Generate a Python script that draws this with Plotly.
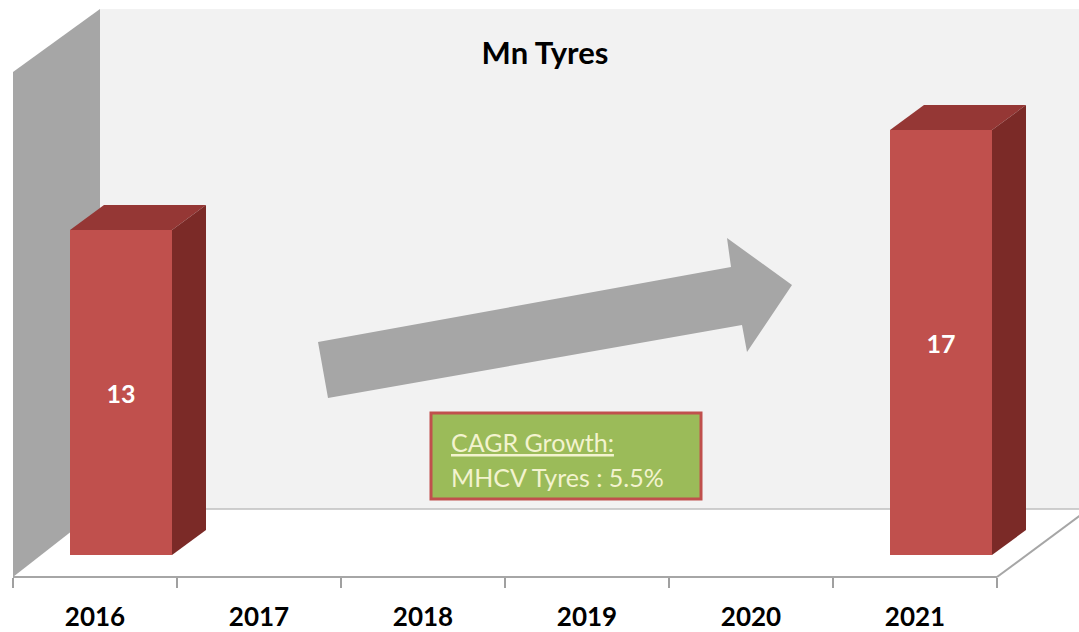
import plotly.graph_objects as go

# ---------------- data ----------------
YEARS = ["2016", "2017", "2018", "2019", "2020", "2021"]
VALUES = [13, None, None, None, None, 17]
TITLE = "Mn Tyres"
BOX_LINE1 = "CAGR Growth:"
BOX_LINE2 = "MHCV Tyres : 5.5%"

# ---------------- layout constants ----------------
W, H = 1079, 632
MB = 55                      # bottom margin (axis / floor front edge at y=577px)
PLOT_H = H - MB
X_RANGE = [-95 / 164, (W - 95) / 164]     # 164 px per category
Y_RANGE = [-22 / 25, 555 / 25]            # 25 px per unit, zero at 555px

BAR_W = 102 / 164
BAR_OFF = -25 / 164
DXB = 34 / 164        # bar depth, category units
DYB = 1.0             # bar depth, value units

FRONT = "#c0504d"
TOP = "#953735"
SIDE = "#7b2a27"
WALL_BACK = "#f2f2f2"
WALL_LEFT = "#a6a6a6"
FONT = "Lato, 'Open Sans', sans-serif"

xpos = list(range(len(YEARS)))


def pp(xp, yp):
    """pixel -> paper coordinates (decoration only)"""
    return xp / W, (PLOT_H - yp) / PLOT_H


def path_px(points):
    pts = [pp(x, y) for x, y in points]
    return "M " + " L ".join(f"{x:.5f},{y:.5f}" for x, y in pts) + " Z"


fig = go.Figure()

# front faces of bars
fig.add_trace(go.Bar(
    x=xpos, y=VALUES, width=BAR_W, offset=BAR_OFF,
    marker=dict(color=FRONT, line=dict(width=0)),
    text=[str(v) if v is not None else "" for v in VALUES],
    textposition="inside", insidetextanchor="middle", textangle=0,
    textfont=dict(family=FONT, size=25, color="white", weight="bold"),
    hoverinfo="skip", showlegend=False,
))

# 3D top and side faces computed from values
for i, v in zip(xpos, VALUES):
    if v is None:
        continue
    x0 = i + BAR_OFF
    x1 = x0 + BAR_W
    fig.add_trace(go.Scatter(
        x=[x0, x0 + DXB, x1 + DXB, x1, x0],
        y=[v, v + DYB, v + DYB, v, v],
        mode="lines", fill="toself", fillcolor=TOP,
        line=dict(width=0, color=TOP), hoverinfo="skip", showlegend=False))
    fig.add_trace(go.Scatter(
        x=[x1, x1 + DXB, x1 + DXB, x1, x1],
        y=[v, v + DYB, DYB, 0, v],
        mode="lines", fill="toself", fillcolor=SIDE,
        line=dict(width=0, color=SIDE), hoverinfo="skip", showlegend=False))

shapes = []
# back wall
shapes.append(dict(type="path", xref="paper", yref="paper", layer="below",
                   path=path_px([(100, 9), (W + 5, 9), (W + 5, 509), (100, 509)]),
                   fillcolor=WALL_BACK, line=dict(width=0)))
# left wall
shapes.append(dict(type="path", xref="paper", yref="paper", layer="below",
                   path=path_px([(13, 72), (100, 9), (100, 509), (13, 577)]),
                   fillcolor=WALL_LEFT, line=dict(width=0)))
# back wall / floor line
x0p, y0p = pp(100, 509)
x1p, _ = pp(W + 5, 509)
shapes.append(dict(type="line", xref="paper", yref="paper", layer="below",
                   x0=x0p, y0=y0p, x1=x1p, y1=y0p,
                   line=dict(color="#bfbfbf", width=1.5)))
# floor front edge + right diagonal
for (a, b) in [((13, 577), (997, 577)), ((997, 577), (W + 3, 514))]:
    xa, ya = pp(*a)
    xb, yb = pp(*b)
    shapes.append(dict(type="line", xref="paper", yref="paper", layer="above",
                       x0=xa, y0=ya, x1=xb, y1=yb,
                       line=dict(color="#a6a6a6", width=2)))
# big gray arrow
shapes.append(dict(type="path", xref="paper", yref="paper", layer="below",
                   path=path_px([(318, 342), (731, 267), (727, 238), (792, 285),
                                 (747, 352), (742, 325), (328, 398)]),
                   fillcolor="#a6a6a6", line=dict(width=0)))
# CAGR box
shapes.append(dict(type="path", xref="paper", yref="paper", layer="above",
                   path=path_px([(431, 413), (701, 413), (701, 499), (431, 499)]),
                   fillcolor="#9bbb59", line=dict(color="#c0504d", width=3)))

annotations = []
bx, by1 = pp(449, 442)
_, by2 = pp(449, 477)
annotations.append(dict(x=bx, y=by1, xref="paper", yref="paper", xanchor="left",
                        yanchor="middle", showarrow=False,
                        text=f"<u>{BOX_LINE1}</u>",
                        font=dict(family=FONT, size=25, color="#f3f3cf")))
annotations.append(dict(x=bx, y=by2, xref="paper", yref="paper", xanchor="left",
                        yanchor="middle", showarrow=False,
                        text=BOX_LINE2,
                        font=dict(family=FONT, size=25, color="#f3f3cf")))

fig.update_layout(
    width=W, height=H,
    margin=dict(l=0, r=0, t=0, b=MB, pad=0),
    paper_bgcolor="white", plot_bgcolor="rgba(0,0,0,0)",
    title=dict(text=f"<b>{TITLE}</b>", x=545 / W, xanchor="center",
               y=1 - 53 / H, yanchor="middle",
               font=dict(family=FONT, size=31, color="black")),
    shapes=shapes, annotations=annotations,
    xaxis=dict(range=X_RANGE, tickmode="array", tickvals=xpos, ticktext=YEARS,
               ticks="", showgrid=False, zeroline=False, showline=False,
               ticklabelstandoff=22,
               tickfont=dict(family=FONT, size=26, color="black", weight="bold"),
               minor=dict(tickmode="array", tickvals=[i - 0.5 for i in range(len(YEARS) + 1)],
                          ticks="outside", ticklen=10, tickwidth=1.5,
                          tickcolor="#a0a0a0", showgrid=False),
               fixedrange=True),
    yaxis=dict(range=Y_RANGE, visible=False, fixedrange=True),
    bargap=0,
)

fig.write_html("out.html", config={"displayModeBar": False, "staticPlot": True},
               post_script="document.body.style.margin='0px';document.body.style.overflow='hidden';")
